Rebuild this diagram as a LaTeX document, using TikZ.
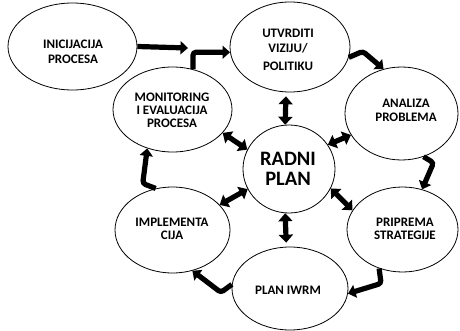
\documentclass[tikz,border=0pt]{standalone}
\usepackage{fontspec}
\setmainfont{Carlito}[BoldFont={Carlito Bold}]
\usetikzlibrary{arrows.meta,calc,shapes.geometric}
\begin{document}
\begin{tikzpicture}[x=1pt,y=-1pt,
  stage/.style={draw=black,line width=0.8pt,ellipse,inner sep=0pt},
  lab/.style={font=\bfseries\fontsize{13}{14}\selectfont,align=center,inner sep=0pt},
  biglab/.style={font=\bfseries\fontsize{20.5}{20}\selectfont,align=center,inner sep=0pt},
  flow/.style={line width=5.2pt,-{Triangle[width=13pt,length=7.5pt]},rounded corners=3pt},
  link/.style={line width=5.2pt,{Triangle[width=14pt,length=8pt]}-{Triangle[width=14pt,length=8pt]}},
]
\useasboundingbox (0,0) rectangle (460,331);
% stages
\node[stage,minimum width=129pt,minimum height=87pt] (ini) at (72.5,46.5) {};
\node[stage,minimum width=120pt,minimum height=90pt] (util) at (290,47) {};
\node[stage,minimum width=113pt,minimum height=93pt] (ana) at (401.5,113.5) {};
\node[stage,minimum width=119pt,minimum height=85pt] (mon) at (172.5,109.5) {};
\node[stage,minimum width=92pt,minimum height=88pt] (rad) at (289,169) {};
\node[stage,minimum width=111pt,minimum height=85pt] (pri) at (402.5,229.5) {};
\node[stage,minimum width=115pt,minimum height=86pt] (imp) at (172.5,230) {};
\node[stage,minimum width=116pt,minimum height=83pt] (iwrm) at (290,288.5) {};
% labels
\node[lab] (ini-t) at (73,51.5) {INICIJACIJA\\[1pt]PROCESA};
\node[lab] (util-t) at (288,50) {UTVRDITI\\[1pt]VIZIJU/\\[4.5pt]POLITIKU};
\node[lab] (ana-t) at (406,110) {ANALIZA\\PROBLEMA};
\node[lab,font=\bfseries\fontsize{13}{13}\selectfont] (mon-t) at (172,110) {MONITORING\\I EVALUACIJA\\PROCESA};
\node[biglab] (rad-t) at (288,169) {RADNI\\PLAN};
\node[lab,font=\bfseries\fontsize{13}{12.5}\selectfont] (pri-t) at (405,229) {PRIPREMA\\STRATEGIJE};
\node[lab,font=\bfseries\fontsize{13}{12.5}\selectfont] (imp-t) at (172,229) {IMPLEMENTA\\CIJA};
\node[lab] (iwrm-t) at (288,290) {PLAN IWRM};
% cycle arrows
\coordinate (iniend) at (188,48);
\draw[flow] (ini.east) -- (iniend);
\draw[flow] (mon.63) |- (util.185);
\draw[flow] (util.-10) -- ($(util.-10)+(14,-6)$) -- (ana.112);
\draw[flow] (ana.-63) -- ($(ana.-63)+(10,6)$) -- (pri.64);
\draw[flow] (pri.-121) -- ($(pri.-121)+(2,15)$) -- (iwrm.-5);
\draw[flow] (iwrm.176) -- ($(iwrm.176)+(-11,8)$) -- (imp.-64);
\draw[flow] (imp.112) -- ($(imp.112)+(-13,-5)$) -- (mon.-123);
% links to work plan
\draw[link,shorten >=4pt] (rad.95) -- (util.-95);
\draw[link,shorten >=4pt] (rad.265) -- (iwrm.95);
\draw[link] (rad.155) -- (mon.-25);
\draw[link] (rad.32) -- (ana.203);
\draw[link] (rad.-25) -- (pri.159);
\draw[link] (rad.206) -- (imp.28);
\end{tikzpicture}
\end{document}
